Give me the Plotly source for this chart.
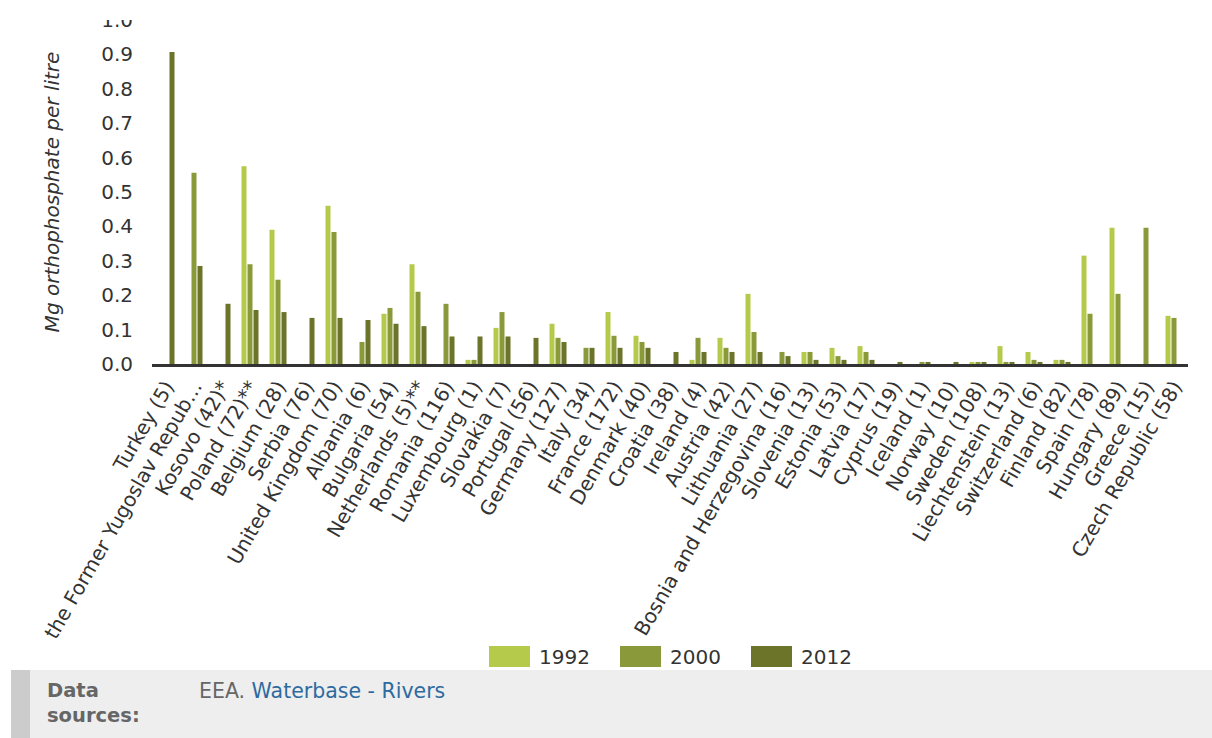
import plotly.graph_objects as go

# mean orthophosphate in rivers, mg per litre (number of stations in brackets)
countries = ["Turkey (5)", "the Former Yugoslav Repub\u2026", "Kosovo (42)*", "Poland (72)**",
             "Belgium (28)", "Serbia (76)", "United Kingdom (70)", "Albania (6)", "Bulgaria (54)",
             "Netherlands (5)**", "Romania (116)", "Luxembourg (1)", "Slovakia (7)", "Portugal (56)",
             "Germany (127)", "Italy (34)", "France (172)", "Denmark (40)", "Croatia (38)",
             "Ireland (4)", "Austria (42)", "Lithuania (27)", "Bosnia and Herzegovina (16)",
             "Slovenia (13)", "Estonia (53)", "Latvia (17)", "Cyprus (19)", "Iceland (1)",
             "Norway (10)", "Sweden (108)", "Liechtenstein (13)", "Switzerland (6)", "Finland (82)",
             "Spain (78)", "Hungary (89)", "Greece (15)", "Czech Republic (58)"]

v1992 = [None, None, None, 0.575, 0.39, None, 0.46, None, 0.146, 0.29, None, 0.012, 0.105, None,
         0.117, None, 0.151, 0.082, None, 0.012, 0.076, 0.204, None, 0.035, 0.047, 0.052, None,
         None, None, 0.006, 0.052, 0.035, 0.012, 0.315, 0.396, None, 0.14]
v2000 = [None, 0.556, None, 0.29, 0.245, None, 0.384, 0.064, 0.163, 0.21, 0.175, 0.012, 0.151, None,
         0.076, 0.047, 0.082, 0.064, None, 0.076, 0.047, 0.093, 0.035, 0.035, 0.023, 0.035, None,
         0.006, None, 0.006, 0.006, 0.012, 0.012, 0.146, 0.204, 0.396, 0.134]
v2012 = [0.907, 0.285, 0.175, 0.157, 0.151, 0.134, 0.134, 0.128, 0.117, 0.11, 0.08, 0.08, 0.08, 0.076,
         0.064, 0.047, 0.047, 0.047, 0.035, 0.035, 0.035, 0.035, 0.023, 0.012, 0.012, 0.012, 0.006,
         0.006, 0.006, 0.006, 0.006, 0.006, 0.006, None, None, None, None]

years = ["1992", "2000", "2012"]
colors = ["#b5c94a", "#8a9a3a", "#6b7429"]

W, H = 1212, 738
L, R, T, B = 152, 24, 20, 374
pw, ph = W - L - R, H - T - B


def fx(px):
    return (px - L) / pw


def fy(py):
    return (H - B - py) / ph


FONT = "DejaVu Sans"
fig = go.Figure()
for name, vals, col in zip(years, [v1992, v2000, v2012], colors):
    fig.add_trace(go.Bar(x=countries, y=vals, name=name, marker_color=col,
                         marker_line_width=0, showlegend=False))

shapes = []
annotations = []

# legend drawn by hand (bigger swatches than plotly's)
for i, (name, col) in enumerate(zip(years, colors)):
    sx = 489 + 131 * i
    shapes.append(dict(type="rect", xref="paper", yref="paper", x0=fx(sx), x1=fx(sx + 41),
                       y0=fy(667), y1=fy(646), fillcolor=col, line_width=0))
    annotations.append(dict(text=name, xref="paper", yref="paper", x=fx(sx + 48), y=fy(657),
                            xanchor="left", yanchor="middle", showarrow=False,
                            font=dict(family=FONT, size=20, color="#333333")))

# footer box
shapes.append(dict(type="rect", xref="paper", yref="paper", x0=fx(11), x1=fx(W + 5),
                   y0=fy(H + 5), y1=fy(670), fillcolor="#eeeeee", line_width=0))
shapes.append(dict(type="rect", xref="paper", yref="paper", x0=fx(11), x1=fx(30),
                   y0=fy(H + 5), y1=fy(670), fillcolor="#cccccc", line_width=0))
annotations.append(dict(text="<b>Data<br>sources:</b>", xref="paper", yref="paper",
                        x=fx(45), y=fy(677), xanchor="left", yanchor="top", align="left",
                        showarrow=False, font=dict(family=FONT, size=19.5, color="#666666")))
annotations.append(dict(text="EEA. <span style='color:#2d6aa0'>Waterbase - Rivers</span>",
                        xref="paper", yref="paper", x=fx(197), y=fy(677), xanchor="left",
                        yanchor="top", showarrow=False,
                        font=dict(family=FONT, size=20.5, color="#666666")))

# top of the "1.0" label is cut off in the original
shapes.append(dict(type="rect", xref="paper", yref="paper", x0=fx(60), x1=fx(150),
                   y0=fy(20), y1=fy(-10), fillcolor="white", line_width=0, layer="above"))

fig.update_layout(
    width=W, height=H,
    margin=dict(l=L, r=R, t=T, b=B),
    paper_bgcolor="white", plot_bgcolor="white",
    barmode="group", bargap=0.357, bargroupgap=0.167,
    font=dict(family=FONT, color="#333333"),
    shapes=shapes, annotations=annotations,
    xaxis=dict(type="category", tickangle=-60, showgrid=False, ticks="",
               showline=True, linecolor="#333333", linewidth=3,
               tickfont=dict(family=FONT, size=20, color="#333333"), automargin=False),
    yaxis=dict(range=[0, 1], dtick=0.1, tickformat=".1f", showgrid=False, zeroline=False,
               showline=False, ticks="", ticklabelstandoff=18,
               tickfont=dict(family=FONT, size=20, color="#333333"),
               title=dict(text="Mg orthophosphate per litre", standoff=36,
                          font=dict(family=FONT, size=20, color="#333333", style="italic")),
               automargin=False),
)

# the page body has a default 8px margin; drop it so the figure sits at (0, 0)
fig.write_html("out.html", config={"displayModeBar": False},
               post_script="document.body.style.margin='0';")
